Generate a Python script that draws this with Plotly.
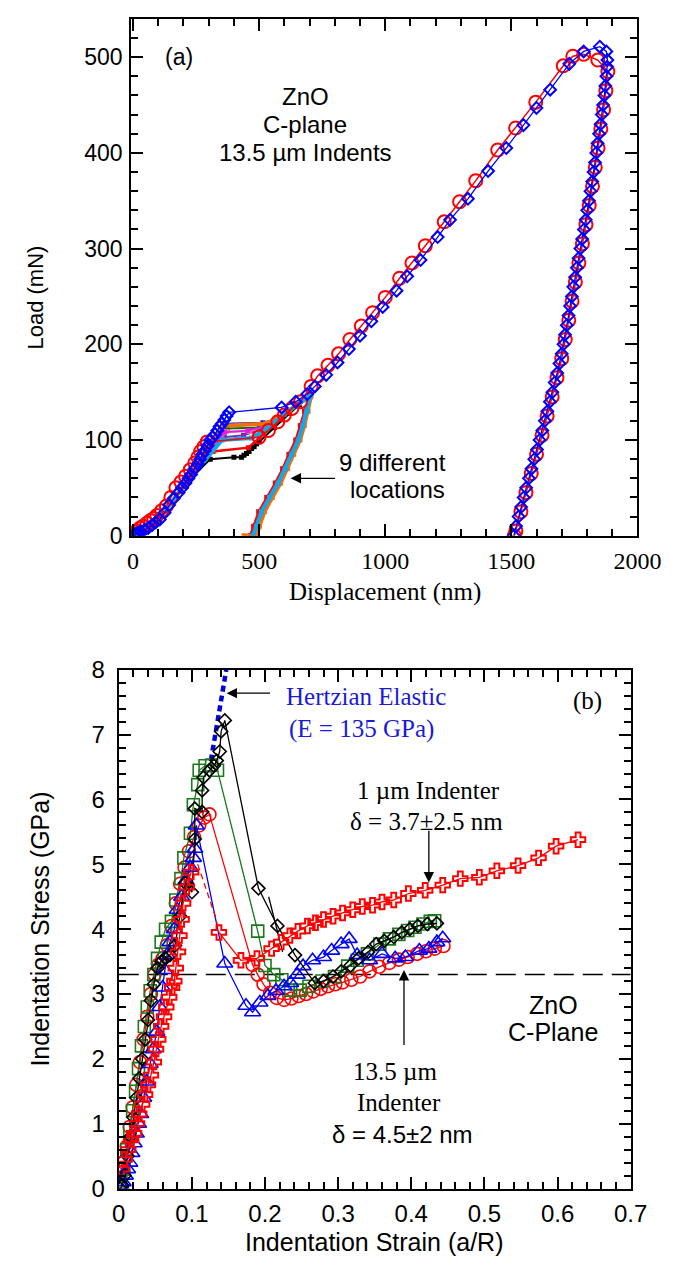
import plotly.graph_objects as go

SANS = "Liberation Sans, Arial, sans-serif"
SERIF = "Liberation Serif, Times New Roman, serif"
W, H = 691, 1274

# ================= Panel (a): Load vs displacement =================
blue_x = [0, 5, 12, 20, 30, 45, 60, 75, 90, 106, 125, 143, 162, 181, 195, 208, 220, 230, 244, 257,
          266, 275, 285, 295, 306, 316, 325, 334, 343, 352, 362, 371, 381,
          589, 645, 691, 721, 766, 811, 856, 900, 945, 990, 1045, 1087, 1140, 1208, 1257, 1328,
          1408, 1480, 1548, 1600, 1654, 1730, 1787, 1851, 1877,
          1881, 1880, 1877, 1873, 1869, 1864, 1859, 1854, 1848, 1842, 1837, 1832, 1826, 1821,
          1814, 1808, 1801, 1795, 1788, 1781, 1774, 1767, 1760, 1753, 1746, 1740, 1733, 1727,
          1720, 1713, 1707, 1700, 1691, 1682, 1672, 1663, 1653, 1643, 1633, 1623, 1612, 1602,
          1591, 1580, 1570, 1559, 1549, 1539, 1529, 1519, 1510]
blue_y = [0, 1, 2, 3, 4, 6, 8, 11, 14, 17, 24, 32, 39, 45, 50, 55, 60, 64, 70, 75,
          80, 85, 89, 94, 100, 103, 106, 110, 114, 117, 121, 125, 129,
          134, 140, 148, 156, 168, 181, 195, 209, 224, 239, 256, 271, 288, 312, 330, 352,
          381, 405, 429, 447, 466, 493, 506, 511, 506,
          497, 490, 480, 470, 460, 450, 440, 430, 420, 410, 400, 390, 380, 370,
          360, 350, 340, 330, 320, 310, 300, 290, 280, 270, 260, 250, 240, 230,
          220, 210, 200, 190, 180, 170, 160, 150, 140, 130, 120, 110, 100, 90,
          80, 70, 60, 50, 40, 30, 20, 10, 0]

red_x = [0, 4, 15, 28, 40, 55, 70, 82, 94, 113, 132, 150, 170, 190, 208, 227, 245, 257, 268, 281, 294,
         500, 537, 574, 600, 630, 664, 706, 732, 773, 815, 860, 905, 950, 1000, 1057, 1106, 1159,
         1234, 1295, 1359, 1446, 1517, 1597, 1706, 1744, 1787, 1843,
         1883, 1875, 1866, 1855, 1844, 1833, 1822, 1809, 1796, 1782, 1768, 1754, 1741, 1728,
         1714, 1700, 1681, 1662, 1642, 1622, 1600, 1579, 1558, 1538, 1518, 1512]
red_y = [0, 2, 5, 8, 10, 13, 16, 18, 21, 26, 31, 40, 50, 56, 62, 69, 76, 82, 88, 93, 98,
         103, 110, 119, 126, 133, 140, 156, 167, 178, 190, 205, 219, 233, 249, 269, 285, 303,
         328, 349, 371, 403, 426, 453, 491, 501, 503, 497,
         485, 465, 445, 425, 405, 385, 365, 345, 325, 305, 285, 265, 245, 225,
         205, 185, 165, 145, 125, 105, 85, 65, 45, 25, 5, 0]

# nine indentation locations (loaded past pop-in to ~145 mN, then unloaded)
loc_names = ["green", "purple", "darkblue", "pink", "magenta", "black", "red", "orange", "cyan"]
loc_colors = ["#0a6e0a", "#7a2fb0", "#1a1aa8", "#ff6fb0", "#e020d8", "#000000", "#ff0000", "#f07010", "#10a8e8"]
loc_width = [2, 2, 2, 2, 2, 2, 2.5, 4, 4]
loc_x = [
    [0, 100, 200, 373, 500, 560, 620, 660, 700, 686, 670, 652, 626, 601, 572, 538, 506, 486, 472],
    [0, 100, 200, 362, 438, 520, 600, 650, 700, 686, 670, 652, 626, 601, 572, 538, 506, 486, 472],
    [0, 100, 200, 362, 515, 570, 620, 660, 702, 688, 672, 654, 628, 603, 574, 540, 508, 488, 474],
    [0, 100, 200, 370, 462, 525, 600, 650, 701, 687, 671, 653, 627, 602, 573, 539, 507, 487, 473],
    [0, 100, 200, 362, 455, 520, 600, 650, 700, 685, 669, 651, 625, 600, 571, 537, 505, 485, 471],
    [0, 100, 200, 306, 400, 430, 440, 450, 460, 470, 480, 490, 500, 560, 620, 660, 700,
     686, 670, 652, 626, 601, 572, 538, 506, 486, 472],
    [0, 100, 200, 317, 457, 500, 560, 620, 660, 698, 680, 663, 645, 618, 593, 564, 530, 498, 478, 464],
    [0, 100, 200, 355, 526, 570, 620, 660, 706, 694, 679, 662, 637, 613, 585, 552, 521, 501, 490, 440],
    [0, 100, 200, 353, 470, 530, 600, 650, 702, 689, 673, 655, 629, 604, 575, 541, 509, 489, 475],
]
loc_y = [
    [0, 16, 52, 112, 113, 118, 130, 138, 145, 130, 115, 100, 85, 70, 55, 40, 25, 10, 0],
    [0, 16, 52, 103, 105, 112, 127, 137, 145, 130, 115, 100, 85, 70, 55, 40, 25, 10, 0],
    [0, 16, 52, 117, 118, 122, 131, 139, 146, 130, 115, 100, 85, 70, 55, 40, 25, 10, 0],
    [0, 16, 52, 109, 109, 115, 128, 137, 146, 130, 115, 100, 85, 70, 55, 40, 25, 10, 0],
    [0, 16, 52, 108, 110, 114, 127, 137, 145, 130, 115, 100, 85, 70, 55, 40, 25, 10, 0],
    [0, 16, 52, 80, 82, 82, 84, 86, 88, 91, 93, 96, 98, 113, 128, 137, 145,
     130, 115, 100, 85, 70, 55, 40, 25, 10, 0],
    [0, 16, 52, 88, 92, 102, 116, 130, 138, 145, 130, 115, 100, 85, 70, 55, 40, 25, 10, 0],
    [0, 16, 52, 115, 117, 122, 131, 139, 146, 130, 115, 100, 85, 70, 55, 40, 25, 10, 0, 0],
    [0, 16, 52, 100, 102, 112, 127, 137, 146, 130, 115, 100, 85, 70, 55, 40, 25, 10, 0],
]

# ================= Panel (b): Indentation stress-strain =================
circ_x = [0.003, 0.007, 0.011, 0.015, 0.019, 0.024, 0.029, 0.034, 0.039, 0.044, 0.049, 0.054, 0.060,
          0.066, 0.072, 0.078, 0.084, 0.090, 0.096, 0.103, 0.110, 0.117, 0.124,
          0.183, 0.190, 0.198, 0.207, 0.216, 0.226, 0.236, 0.246, 0.256, 0.266, 0.276, 0.286,
          0.296, 0.306, 0.318, 0.330, 0.343, 0.356, 0.370, 0.383, 0.395, 0.408, 0.420, 0.432, 0.444]
circ_y = [0.25, 0.40, 0.65, 0.95, 1.25, 1.60, 1.95, 2.30, 2.65, 3.00, 3.30, 3.45, 3.55,
          3.75, 4.05, 4.40, 4.70, 4.95, 5.20, 5.42, 5.60, 5.72, 5.77,
          3.45, 3.30, 3.15, 3.02, 2.94, 2.91, 2.93, 2.97, 3.00, 3.04, 3.08, 3.12,
          3.15, 3.18, 3.22, 3.27, 3.35, 3.42, 3.48, 3.53, 3.57, 3.62, 3.66, 3.70, 3.74]

sq_x = [0.003, 0.007, 0.011, 0.015, 0.019, 0.023, 0.027, 0.031, 0.035, 0.039, 0.043, 0.048, 0.053,
        0.058, 0.064, 0.072, 0.078, 0.085, 0.089, 0.098, 0.102, 0.108, 0.110, 0.118, 0.127, 0.135,
        0.190, 0.200, 0.212, 0.223, 0.235, 0.248, 0.260, 0.278, 0.295, 0.313, 0.326, 0.340,
        0.357, 0.370, 0.383, 0.395, 0.405, 0.416, 0.426, 0.432]
sq_y = [0.10, 0.30, 0.60, 0.90, 1.20, 1.50, 1.85, 2.20, 2.50, 2.80, 3.05, 3.30, 3.55,
        3.80, 4.00, 4.12, 4.45, 4.78, 5.10, 5.48, 5.92, 6.23, 6.45, 6.52, 6.53, 6.45,
        3.97, 3.44, 3.30, 3.22, 3.06, 3.06, 3.12, 3.20, 3.27, 3.43, 3.52, 3.62,
        3.77, 3.85, 3.92, 3.98, 4.03, 4.08, 4.12, 4.13]

tri_x = [0.003, 0.006, 0.009, 0.012, 0.015, 0.018, 0.021, 0.024, 0.027, 0.030, 0.034, 0.038, 0.043,
         0.047, 0.052, 0.056, 0.060, 0.063, 0.066, 0.070, 0.076, 0.080, 0.086, 0.092, 0.098, 0.102,
         0.104, 0.106,
         0.145, 0.174, 0.183, 0.193, 0.204, 0.215, 0.226, 0.235, 0.244, 0.252, 0.265, 0.280, 0.291,
         0.304, 0.315, 0.326, 0.343, 0.360, 0.378, 0.392, 0.411, 0.424, 0.435, 0.443]
tri_y = [0.05, 0.10, 0.20, 0.30, 0.40, 0.55, 0.70, 0.85, 1.00, 1.15, 1.40, 1.65, 1.92,
         2.15, 2.42, 2.80, 3.10, 3.37, 3.60, 3.80, 4.00, 4.30, 4.50, 4.75, 4.95, 5.10,
         5.24, 5.60,
         3.47, 2.82, 2.72, 2.87, 2.97, 3.05, 3.12, 3.17, 3.30, 3.43, 3.52, 3.57, 3.67,
         3.77, 3.85, 3.60, 3.52, 3.62, 3.55, 3.57, 3.67, 3.70, 3.80, 3.86]

dia_x = [0.002, 0.005, 0.008, 0.012, 0.016, 0.020, 0.024, 0.028, 0.032, 0.036, 0.040, 0.044, 0.048,
         0.053, 0.058, 0.064, 0.070, 0.077, 0.084, 0.091, 0.100, 0.104, 0.104, 0.114, 0.114, 0.116,
         0.124, 0.130, 0.134, 0.138, 0.140, 0.145,
         0.191, 0.217, 0.241, 0.268, 0.280, 0.293, 0.304, 0.317, 0.328, 0.341, 0.352, 0.363,
         0.376, 0.387, 0.398, 0.409, 0.422, 0.435]
dia_y = [0.00, 0.05, 0.20, 0.50, 0.80, 1.10, 1.40, 1.70, 2.00, 2.30, 2.60, 2.90, 3.15,
         3.40, 3.50, 3.55, 3.60, 3.75, 4.20, 4.71, 4.57, 5.39, 5.86, 5.81, 6.14, 6.34,
         6.45, 6.52, 6.60, 6.74, 7.05, 7.22,
         4.63, 4.05, 3.60, 3.17, 3.20, 3.27, 3.35, 3.44, 3.55, 3.65, 3.77, 3.82,
         3.88, 3.95, 4.00, 4.05, 4.08, 4.09]
dia2_x = [0.205, 0.224]
dia2_y = [4.50, 3.65]

cross_rise_x = [0.004, 0.008, 0.013, 0.017, 0.021, 0.025, 0.028, 0.032, 0.036, 0.040, 0.044, 0.048,
                0.051, 0.054, 0.058, 0.062, 0.065, 0.069, 0.073, 0.076, 0.078, 0.081, 0.083, 0.086,
                0.088, 0.093, 0.099]
cross_rise_y = [0.30, 0.45, 0.60, 0.75, 0.85, 1.00, 1.15, 1.30, 1.45, 1.60, 1.75, 1.95,
                2.15, 2.30, 2.50, 2.65, 2.80, 2.95, 3.10, 3.20, 3.40, 3.65, 3.90, 4.15,
                4.40, 4.65, 4.88]
cross_drop_x = [0.099, 0.108, 0.120, 0.132, 0.137]
cross_drop_y = [4.88, 5.00, 4.60, 4.20, 3.95]
cross_tail_x = [0.137, 0.167, 0.189, 0.209, 0.222, 0.234, 0.245, 0.258, 0.269, 0.280, 0.293, 0.306,
                0.320, 0.333, 0.347, 0.360, 0.376, 0.396, 0.419, 0.443, 0.467, 0.493, 0.517, 0.546,
                0.574, 0.598, 0.628]
cross_tail_y = [3.95, 3.52, 3.55, 3.70, 3.80, 3.90, 3.97, 4.05, 4.10, 4.15, 4.20, 4.25,
                4.30, 4.35, 4.37, 4.42, 4.45, 4.55, 4.60, 4.68, 4.78, 4.80, 4.90, 4.98,
                5.10, 5.28, 5.38]

hertz_x = [0.126, 0.147]
hertz_y = [6.60, 8.00]
zno_x = [0.0, 0.7]
zno_y = [3.3, 3.3]

fig = go.Figure()

# ---- panel (a) traces ----
for nm, col, wd, xs, ys in zip(loc_names, loc_colors, loc_width, loc_x, loc_y):
    fig.add_trace(go.Scatter(x=xs, y=ys, mode="lines+markers", name=nm,
                             line=dict(color=col, width=wd),
                             marker=dict(symbol="square", size=5, color=col),
                             xaxis="x", yaxis="y", showlegend=False))
fig.add_trace(go.Scatter(x=red_x, y=red_y, mode="lines+markers",
                         line=dict(color="#ff0000", width=1.5),
                         marker=dict(symbol="circle-open", size=13, color="#ff0000", line=dict(width=2)),
                         xaxis="x", yaxis="y", showlegend=False))
fig.add_trace(go.Scatter(x=blue_x, y=blue_y, mode="lines+markers",
                         line=dict(color="#0000ff", width=1.3),
                         marker=dict(symbol="diamond-open", size=9, color="#0000ff", line=dict(width=2)),
                         xaxis="x", yaxis="y", showlegend=False))

# ---- panel (b) traces ----
fig.add_trace(go.Scatter(x=hertz_x, y=hertz_y, mode="lines",
                         line=dict(color="#0000dd", width=4.5, dash="6px,4px"),
                         xaxis="x2", yaxis="y2", showlegend=False))
fig.add_trace(go.Scatter(x=zno_x, y=zno_y, mode="lines",
                         line=dict(color="black", width=1.5, dash="20px,9px"),
                         xaxis="x2", yaxis="y2", showlegend=False))
fig.add_trace(go.Scatter(x=circ_x, y=circ_y, mode="lines+markers",
                         line=dict(color="#ff0000", width=1.3),
                         marker=dict(symbol="circle-open", size=13, color="#ff0000", line=dict(width=1.6)),
                         xaxis="x2", yaxis="y2", showlegend=False))
fig.add_trace(go.Scatter(x=sq_x, y=sq_y, mode="lines+markers",
                         line=dict(color="#1a7a1a", width=1.3),
                         marker=dict(symbol="square-open", size=12, color="#1a7a1a", line=dict(width=1.6)),
                         xaxis="x2", yaxis="y2", showlegend=False))
fig.add_trace(go.Scatter(x=tri_x, y=tri_y, mode="lines+markers",
                         line=dict(color="#0000ff", width=1.3),
                         marker=dict(symbol="triangle-up-open", size=14, color="#0000ff", line=dict(width=1.6)),
                         xaxis="x2", yaxis="y2", showlegend=False))
fig.add_trace(go.Scatter(x=dia_x, y=dia_y, mode="lines+markers",
                         line=dict(color="black", width=1.3),
                         marker=dict(symbol="diamond-open", size=10, color="black", line=dict(width=1.6)),
                         xaxis="x2", yaxis="y2", showlegend=False))
fig.add_trace(go.Scatter(x=dia2_x, y=dia2_y, mode="lines",
                         line=dict(color="black", width=1.3),
                         xaxis="x2", yaxis="y2", showlegend=False))
fig.add_trace(go.Scatter(x=cross_drop_x, y=cross_drop_y, mode="lines",
                         line=dict(color="#ff0000", width=1.3, dash="6px,4px"),
                         xaxis="x2", yaxis="y2", showlegend=False))
fig.add_trace(go.Scatter(x=cross_rise_x, y=cross_rise_y, mode="lines+markers",
                         line=dict(color="#ff0000", width=1.3),
                         marker=dict(symbol="cross-open", size=12, color="#ff0000", line=dict(width=2)),
                         xaxis="x2", yaxis="y2", showlegend=False))
fig.add_trace(go.Scatter(x=cross_tail_x, y=cross_tail_y, mode="lines+markers",
                         line=dict(color="#ff0000", width=1.3),
                         marker=dict(symbol="cross-open", size=12, color="#ff0000", line=dict(width=2)),
                         xaxis="x2", yaxis="y2", showlegend=False))


def px(xp, yp):
    return xp / W, 1 - yp / H


def axis_common(tickfont, standoff, **kw):
    d = dict(showline=True, linecolor="black", linewidth=2, mirror="allticks",
             ticks="inside", ticklen=12, tickwidth=1.5, tickcolor="black",
             showgrid=False, zeroline=False, tickfont=tickfont, ticklabelstandoff=standoff)
    d.update(kw)
    return d


fig.update_layout(
    width=W, height=H, margin=dict(l=0, r=0, t=0, b=0),
    paper_bgcolor="white", plot_bgcolor="white", showlegend=False,
    xaxis=axis_common(dict(family=SERIF, size=24, color="black"), 2,
                      domain=[130 / W, 660 / W], range=[-7.5, 2000], tick0=0, dtick=500,
                      minor=dict(dtick=100, ticks="inside", ticklen=7, tickwidth=1.5, tickcolor="black"),
                      anchor="y"),
    yaxis=axis_common(dict(family=SANS, size=23, color="black"), 2,
                      domain=[1 - 533 / H, 1 - 5 / H], range=[0, 540], tick0=0, dtick=100,
                      minor=dict(dtick=20, ticks="inside", ticklen=7, tickwidth=1.5, tickcolor="black"),
                      anchor="x"),
    xaxis2=axis_common(dict(family=SANS, size=24, color="black"), 3,
                       domain=[117 / W, 653 / W], range=[0, 0.7], tick0=0, dtick=0.1,
                       minor=dict(dtick=0.02, ticks="inside", ticklen=7, tickwidth=1.5, tickcolor="black"),
                       anchor="y2"),
    yaxis2=axis_common(dict(family=SANS, size=24, color="black"), 7,
                       domain=[1 - 1200 / H, 1 - 670 / H], range=[0, 8], tick0=0, dtick=1,
                       minor=dict(dtick=0.2, ticks="inside", ticklen=7, tickwidth=1.5, tickcolor="black"),
                       anchor="x2"),
)

ann = []


def text(t, xp, yp, family, size, color="black", xanchor="center", angle=0):
    x, y = px(xp, yp)
    ann.append(dict(text=t, x=x, y=y, xref="paper", yref="paper", showarrow=False,
                    xanchor=xanchor, yanchor="middle", textangle=angle,
                    font=dict(family=family, size=size, color=color)))


def arrow(xh, yh, xt, yt, xr, yr):
    ann.append(dict(text="", x=xh, y=yh, ax=xt, ay=yt, xref=xr, yref=yr, axref=xr, ayref=yr,
                    showarrow=True, arrowhead=2, arrowsize=1.6, arrowwidth=1.3, arrowcolor="black"))


# axis titles
text("Load (mN)", 30, 290, SANS, 22, angle=-90)
text("Displacement (nm)", 396, 591, SERIF, 25)
text("Indentation Stress (GPa)", 35, 935, SANS, 25, angle=-90)
text("Indentation Strain (a/R)", 384, 1255, SANS, 25)

# panel (a) labels
text("(a)", 163, 44, SANS, 23, xanchor="left")
text("ZnO", 312, 84, SANS, 24)
text("C-plane", 312, 113, SANS, 24)
text("13.5 µm Indents", 312, 142, SANS, 24)
text("9 different", 404, 458, SANS, 24)
text("locations", 409, 486, SANS, 24)
arrow(625, 60, 807, 60, "x", "y")

# panel (b) labels
text("Hertzian Elastic", 290, 697, SERIF, 25, color="#1a1ad8", xanchor="left")
text("(E = 135 GPa)", 293, 730, SERIF, 25, color="#1a1ad8", xanchor="left")
text("(b)", 608, 702, SERIF, 25)
text("1 µm Indenter", 441, 793, SERIF, 25)
text("δ = 3.7±2.5 nm", 439, 825, SERIF, 25)
text("ZnO", 572, 1012, SANS, 25)
text("C-Plane", 572, 1040, SANS, 25)
text("13.5 µm", 406, 1080, SERIF, 25)
text("Indenter", 410, 1112, SERIF, 25)
text("δ = 4.5±2 nm", 414, 1145, SANS, 24)
arrow(0.1475, 7.64, 0.209, 7.64, "x2", "y2")
arrow(0.424, 4.72, 0.424, 5.54, "x2", "y2")
arrow(0.39, 3.37, 0.39, 2.19, "x2", "y2")

fig.update_layout(annotations=ann)
fig.write_html("out.html")
